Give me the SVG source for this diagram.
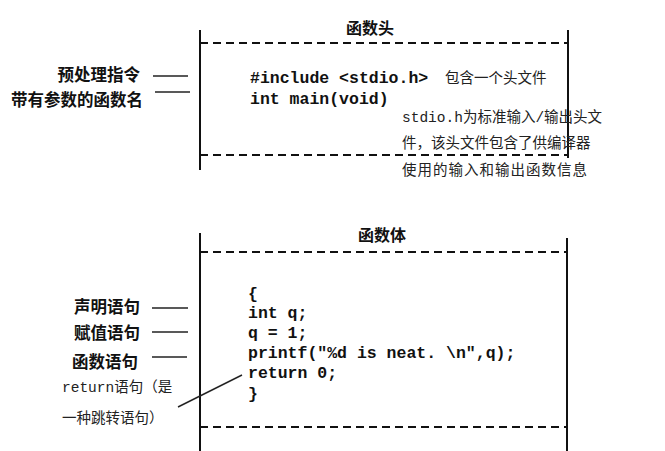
<svg xmlns="http://www.w3.org/2000/svg" width="665" height="451" viewBox="0 0 665 451">
<style>
.bg{fill:#fff}
.frame{stroke:#111;stroke-width:2;fill:none}
.dash{stroke:#111;stroke-width:1.8;stroke-dasharray:8 5;fill:none}
.title{font-family:"Noto Sans CJK SC",sans-serif;font-weight:700;font-size:16px;fill:#111;text-anchor:middle}
.lbl{font-family:"Noto Sans CJK SC",sans-serif;font-weight:700;font-size:16.5px;fill:#111;text-anchor:end}
.code{font-family:"Liberation Mono",monospace;font-weight:700;font-size:16.5px;fill:#111}
.note{font-family:"Liberation Mono","Noto Sans CJK SC",monospace;font-size:14.5px;fill:#222}
.conn{stroke:#222;stroke-width:1.4;fill:none}
</style>
<rect class="bg" x="0" y="0" width="665" height="451"/>
<g id="head-box">
<line class="frame" x1="200" y1="30" x2="200" y2="170"/>
<line class="frame" x1="568" y1="30" x2="568" y2="158"/>
<line class="dash" x1="200" y1="43" x2="568" y2="43"/>
<line class="dash" x1="200" y1="155" x2="568" y2="155"/>
<text class="title" x="370" y="34">函数头</text>
<text class="code" x="250" y="83">#include &lt;stdio.h&gt;</text>
<text class="code" x="250" y="104">int main(void)</text>
<text class="note" x="445" y="83">包含一个头文件</text>
</g>
<g id="head-note">
<text class="note" x="402" y="122">stdio.h为标准输入/输出头文</text>
<text class="note" x="402" y="148">件，该头文件包含了供编译器</text>
<text class="note" x="402" y="175" letter-spacing="1">使用的输入和输出函数信息</text>
</g>
<g id="label-preprocessor"><text class="lbl" x="140" y="81">预处理指令</text></g>
<g id="label-funcname"><text class="lbl" x="143" y="106">带有参数的函数名</text></g>
<g id="body-box">
<line class="frame" x1="200" y1="233" x2="200" y2="451"/>
<line class="frame" x1="567" y1="238" x2="567" y2="451"/>
<line class="dash" x1="200" y1="252" x2="567" y2="252"/>
<line class="dash" x1="200" y1="427" x2="567" y2="427"/>
<text class="title" x="382" y="241">函数体</text>
<text class="code" x="248" y="299">{</text>
<text class="code" x="248" y="318">int q;</text>
<text class="code" x="248" y="338">q = 1;</text>
<text class="code" x="248" y="358">printf("%d is neat. \n",q);</text>
<text class="code" x="248" y="378">return 0;</text>
<text class="code" x="248" y="399">}</text>
</g>
<g id="label-decl"><text class="lbl" x="140" y="313">声明语句</text></g>
<g id="label-assign"><text class="lbl" x="140" y="339">赋值语句</text></g>
<g id="label-funcstmt"><text class="lbl" x="138" y="368">函数语句</text></g>
<g id="label-return">
<text class="note" x="62" y="392">return语句（是</text>
<text class="note" x="62" y="423">一种跳转语句）</text>
</g>
<g id="connectors">
<line class="conn" x1="153" y1="76" x2="188" y2="76"/>
<line class="conn" x1="155" y1="92" x2="190" y2="92"/>
<line class="conn" x1="152" y1="308" x2="188" y2="308"/>
<line class="conn" x1="152" y1="332" x2="188" y2="332"/>
<line class="conn" x1="152" y1="357" x2="187" y2="357"/>
<line class="conn" x1="178" y1="407" x2="242" y2="375"/>
</g>
</svg>
